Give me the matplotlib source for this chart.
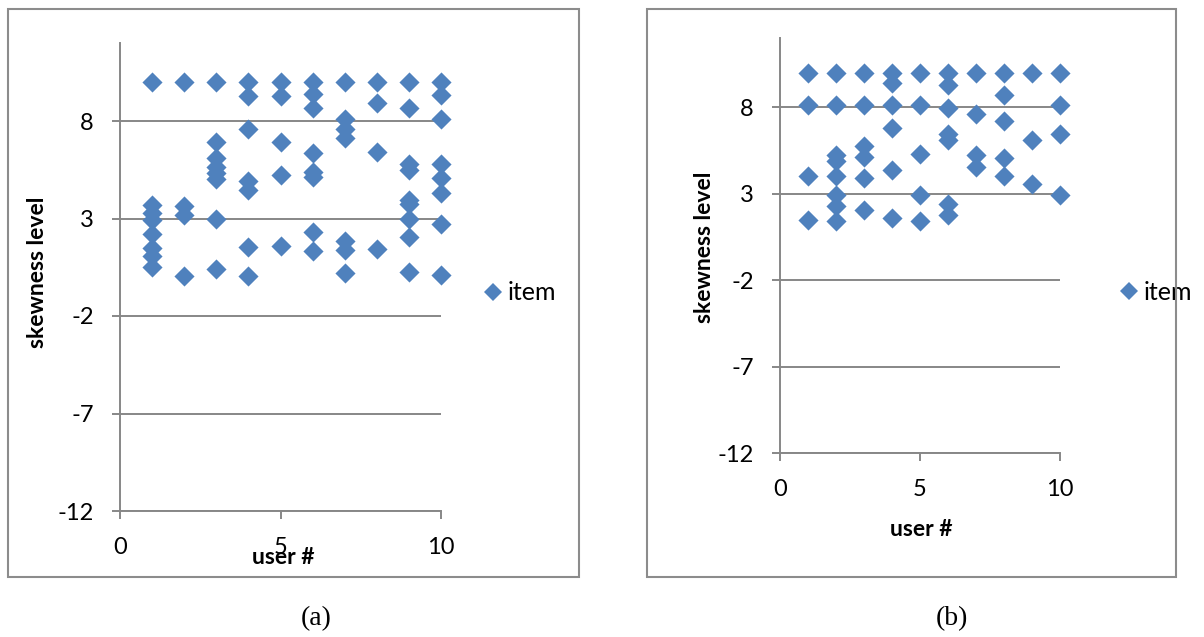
import matplotlib
matplotlib.use("Agg")
import matplotlib.pyplot as plt
from matplotlib.patches import Rectangle
from matplotlib.lines import Line2D

plt.rcParams["axes.unicode_minus"] = False

# ---- data: panel (a) ----
users_a = [1]*8 + [2]*4 + [3]*8 + [4]*7 + [5]*5 + [6]*8 + [7]*7 + [8]*4 + [9]*9 + [10]*8
skew_a = [10, 3.7, 3.3, 2.9, 2.2, 1.5, 1.1, 0.5,
          10, 3.65, 3.2, 0.03,
          10, 6.9, 6.1, 5.66, 5.35, 5.05, 2.97, 0.4,
          10, 9.28, 7.6, 4.93, 4.47, 1.52, 0.03,
          10, 9.28, 6.92, 5.22, 1.57,
          10, 9.37, 8.68, 6.38, 5.39, 5.15, 2.32, 1.34,
          10, 8.12, 7.6, 7.15, 1.86, 1.4, 0.2,
          10, 8.9, 6.4, 1.43,
          10, 8.68, 5.78, 5.49, 3.96, 3.73, 2.97, 2.03, 0.27,
          10, 9.31, 8.09, 5.78, 5.1, 4.3, 2.71, 0.1]

# ---- data: panel (b) ----
users_b = [1]*4 + [2]*8 + [3]*6 + [4]*6 + [5]*5 + [6]*7 + [7]*4 + [8]*5 + [9]*3 + [10]*4
skew_b = [10, 8.1, 4.0, 1.5,
          10, 8.1, 5.26, 4.87, 4.0, 2.94, 2.27, 1.4,
          10, 8.1, 5.78, 5.12, 3.9, 2.07,
          10, 9.37, 8.1, 6.78, 4.35, 1.59,
          10, 8.1, 5.3, 2.94, 1.4,
          10, 9.31, 7.96, 6.42, 6.13, 2.4, 1.78,
          10, 7.61, 5.26, 4.54,
          10, 8.68, 7.19, 5.07, 4.0,
          10, 6.09, 3.58,
          10, 8.1, 6.42, 2.94]

x_ticks = [0, 5, 10]
y_ticks = [-12, -7, -2, 3, 8]
series_name = "item"
x_label = "user #"
y_label = "skewness level"
captions = ["(a)", "(b)"]

W, H = 1204, 637
fig = plt.figure(figsize=(W / 100, H / 100), dpi=100)
fig.patch.set_facecolor("white")

BLUE = "#4F81BD"
GRID = "#878787"
SANS = ["Lato", "DejaVu Sans"]


def fx(px):
    return px / W


def fy(py):
    return 1 - py / H


def make_panel(x, y, ax_px, box_px, ylab_px, xlab_px, leg_px, cap_px, caption):
    l, t, r, b = ax_px
    ax = fig.add_axes([fx(l), fy(b), fx(r - l), (b - t) / H])
    ax.scatter(x, y, marker="D", s=105, color=BLUE, linewidths=0,
               clip_on=False, zorder=3)
    ax.set_xlim(0, 10)
    ax.set_ylim(-12, 12)
    ax.set_xticks(x_ticks)
    ax.set_yticks(y_ticks)
    ax.yaxis.grid(True, color=GRID, linewidth=1.4)
    ax.set_axisbelow(True)
    for s in ("top", "right"):
        ax.spines[s].set_visible(False)
    for s in ("left", "bottom"):
        ax.spines[s].set_color(GRID)
        ax.spines[s].set_linewidth(1.4)
    ax.tick_params(axis="both", direction="out", length=6, width=1.4,
                   color=GRID, labelsize=17)
    ax.tick_params(axis="y", pad=13)
    ax.tick_params(axis="x", pad=13)
    for lab in ax.get_xticklabels() + ax.get_yticklabels():
        lab.set_family(SANS)
    ax.set_xlabel(x_label, fontsize=16.5, fontweight="bold", family=SANS)
    ax.set_ylabel(y_label, fontsize=16.5, fontweight="bold", family=SANS)
    ax.xaxis.set_label_coords(fx(xlab_px[0]), fy(xlab_px[1]),
                              transform=fig.transFigure)
    ax.yaxis.set_label_coords(fx(ylab_px[0]), fy(ylab_px[1]),
                              transform=fig.transFigure)
    ax.xaxis.label.set_va("center")
    ax.yaxis.label.set_va("center")

    handle = Line2D([], [], marker="D", linestyle="none", color=BLUE,
                    markersize=9, markeredgewidth=0)
    ax.legend([handle], [series_name], loc="center left",
              bbox_to_anchor=(fx(leg_px[0]), fy(leg_px[1])),
              bbox_transform=fig.transFigure, frameon=False,
              handlelength=0.8, handletextpad=0.2, borderpad=0,
              prop={"family": SANS, "size": 18})

    bl, bt, br, bb = box_px
    fig.patches.append(Rectangle((fx(bl), fy(bb)), fx(br - bl), (bb - bt) / H,
                                 transform=fig.transFigure, fill=False,
                                 edgecolor="#8c8c8c", linewidth=1.5))
    fig.text(fx(cap_px[0]), fy(cap_px[1]), caption, ha="center", va="center",
             fontsize=20, family=["Liberation Serif", "DejaVu Serif"])
    return ax


make_panel(users_a, skew_a, (120, 43, 441, 511), (8, 9, 579, 577),
           (38, 272), (283, 557), (470, 293), (316, 619), captions[0])
make_panel(users_b, skew_b, (780, 38, 1060, 453), (647, 9, 1176, 577),
           (704, 247), (921, 529), (1106, 292), (952, 619), captions[1])

fig.savefig("out.png", dpi=100, facecolor="white")
